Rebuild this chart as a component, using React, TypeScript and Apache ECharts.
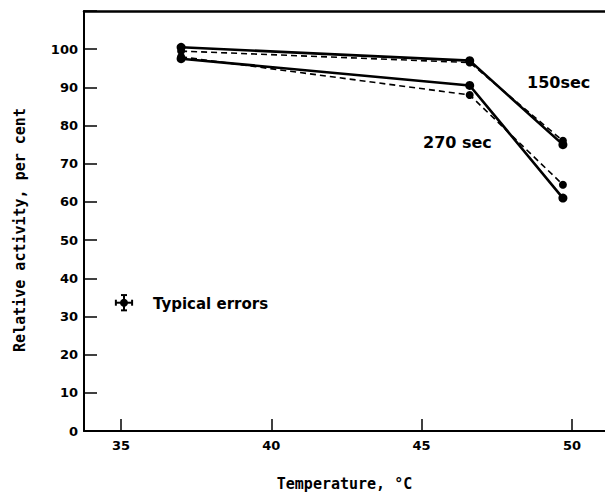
import React, { useEffect, useRef } from 'react';
import * as echarts from 'echarts';

// Data
const temperatures = [37, 46.6, 49.7];
const solid150 = [100.5, 97, 75];
const dashed150 = [99.5, 96.5, 76];
const solid270 = [97.5, 90.5, 61];
const dashed270 = [98, 88, 64.5];
const xTickValues = [35, 40, 45, 50];
const errorCenter = [35.1, 33.6];
const errorHalfSize = [0.27, 2];

const labelFont = 'DejaVu Sans';

export default function App() {
  const ref = useRef<HTMLDivElement>(null);
  useEffect(() => {
    if (!ref.current) return;
    const chart = echarts.init(ref.current, null, { renderer: 'svg' });
    const pts = (vals: number[]) => temperatures.map((t, i) => [t, vals[i]]);
    const lineSeries = (name: string, vals: number[], dashed: boolean) => ({
      name,
      type: 'line',
      data: pts(vals),
      symbol: 'circle',
      symbolSize: dashed ? 8 : 9,
      itemStyle: { color: '#000' },
      lineStyle: { color: '#000', width: dashed ? 1.6 : 2.6, type: dashed ? [6, 4] : 'solid' },
      z: dashed ? 3 : 4,
    });
    chart.setOption({
      animation: false,
      backgroundColor: '#fff',
      grid: { left: 84, right: 0, top: 11, bottom: 63 },
      xAxis: [
        {
          type: 'value',
          min: 33.77,
          max: 51.1,
          axisLine: { show: true, lineStyle: { color: '#000', width: 2 } },
          axisTick: { show: true, inside: true, length: 12, customValues: xTickValues, lineStyle: { color: '#000', width: 1.5 } },
          axisLabel: { customValues: xTickValues, color: '#000', fontFamily: labelFont, fontWeight: 'bold', fontSize: 13, margin: 8 },
          splitLine: { show: false },
          name: 'Temperature, °C',
          nameLocation: 'middle',
          nameGap: 45,
          nameTextStyle: { color: '#000', fontFamily: 'DejaVu Sans Mono', fontWeight: 'bold', fontSize: 15 },
        },
        {
          type: 'value',
          position: 'top',
          min: 33.77,
          max: 51.1,
          axisLine: { show: true, lineStyle: { color: '#000', width: 2.5 } },
          axisTick: { show: false },
          axisLabel: { show: false },
          splitLine: { show: false },
        },
      ],
      yAxis: {
        type: 'value',
        min: 0,
        max: 110,
        interval: 10,
        axisLine: { show: true, lineStyle: { color: '#000', width: 2 } },
        axisTick: { show: true, inside: true, length: 13, lineStyle: { color: '#000', width: 1.5 } },
        axisLabel: {
          color: '#000', fontFamily: labelFont, fontWeight: 'bold', fontSize: 13, margin: 6,
          formatter: (v: number) => (v > 100 ? '' : String(v)),
        },
        splitLine: { show: false },
      },
      series: [
        lineSeries('150 sec', solid150, false),
        lineSeries('150 sec (dashed)', dashed150, true),
        lineSeries('270 sec', solid270, false),
        lineSeries('270 sec (dashed)', dashed270, true),
        {
          type: 'custom',
          name: 'Typical errors',
          data: [[errorCenter[0], errorCenter[1], errorHalfSize[0], errorHalfSize[1]]],
          renderItem: (params: any, api: any) => {
            const x = api.value(0), y = api.value(1), dx = api.value(2), dy = api.value(3);
            const c = api.coord([x, y]);
            const l = api.coord([x - dx, y]);
            const r = api.coord([x + dx, y]);
            const t = api.coord([x, y + dy]);
            const b = api.coord([x, y - dy]);
            const style = { stroke: '#000', lineWidth: 2 };
            return {
              type: 'group',
              children: [
                { type: 'line', shape: { x1: l[0], y1: c[1], x2: r[0], y2: c[1] }, style },
                { type: 'line', shape: { x1: c[0], y1: t[1], x2: c[0], y2: b[1] }, style },
                { type: 'line', shape: { x1: l[0], y1: c[1] - 3, x2: l[0], y2: c[1] + 3 }, style },
                { type: 'line', shape: { x1: r[0], y1: c[1] - 3, x2: r[0], y2: c[1] + 3 }, style },
                { type: 'line', shape: { x1: c[0] - 3, y1: t[1], x2: c[0] + 3, y2: t[1] }, style },
                { type: 'line', shape: { x1: c[0] - 3, y1: b[1], x2: c[0] + 3, y2: b[1] }, style },
                { type: 'circle', shape: { cx: c[0], cy: c[1], r: 4 }, style: { fill: '#000' } },
              ],
            };
          },
        },
      ],
      graphic: [
        {
          type: 'text', x: 20, y: 230, rotation: Math.PI / 2,
          style: { text: 'Relative activity, per cent', fill: '#000', font: 'bold 15px "DejaVu Sans Mono"', align: 'center', verticalAlign: 'middle' },
        },
        {
          type: 'text', x: 527, y: 82,
          style: { text: '150sec', fill: '#000', font: 'bold 16px "DejaVu Sans"', align: 'left', verticalAlign: 'middle' },
        },
        {
          type: 'text', x: 423, y: 142,
          style: { text: '270 sec', fill: '#000', font: 'bold 16px "DejaVu Sans"', align: 'left', verticalAlign: 'middle' },
        },
        {
          type: 'text', x: 153, y: 304,
          style: { text: 'Typical errors', fill: '#000', font: 'bold 15px "DejaVu Sans"', align: 'left', verticalAlign: 'middle' },
        },
      ],
    });
    return () => chart.dispose();
  }, []);
  return <div ref={ref} style={{ position: 'absolute', left: 0, top: 0, width: 605, height: 496, background: '#fff' }} />;
}
